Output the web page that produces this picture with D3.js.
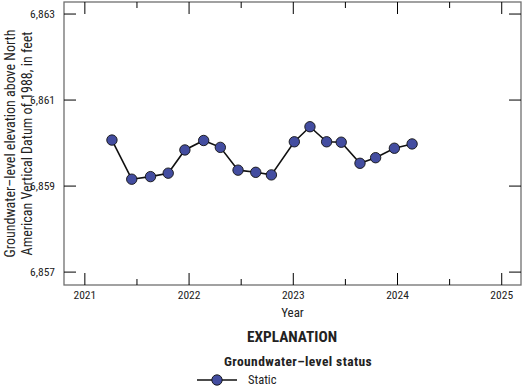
<!DOCTYPE html>
<html>
<head>
<meta charset="utf-8">
<script src="https://cdn.jsdelivr.net/npm/d3@7"></script>
<style>
  body { margin: 0; background: #fff; }
  svg { display: block; font-family: "Liberation Sans Narrow", "Arial Narrow", "Roboto Condensed", sans-serif; }
</style>
</head>
<body>
<div id="chart"></div>
<script>
// measurement dates (decimal years) and groundwater levels, feet above NAVD 88
const years = [2021.26, 2021.45, 2021.63, 2021.80, 2021.96, 2022.14, 2022.30, 2022.47, 2022.64,
  2022.79, 2023.01, 2023.16, 2023.32, 2023.46, 2023.64, 2023.79, 2023.97, 2024.14];
const levels = [6860.07, 6859.16, 6859.22, 6859.30, 6859.84, 6860.06, 6859.90, 6859.37, 6859.32,
  6859.26, 6860.03, 6860.38, 6860.03, 6860.02, 6859.53, 6859.66, 6859.88, 6859.98];
const xTicks = [2021, 2022, 2023, 2024, 2025];
const xMinorTicks = [2021.5, 2022.5, 2023.5, 2024.5];
const yTicks = [6857, 6859, 6861, 6863];

const W = 524, H = 389;
const margin = { top: 2, right: 3, bottom: 104, left: 64 };
const width = W - margin.left - margin.right;
const height = H - margin.top - margin.bottom;

const svg = d3.select('#chart').append('svg')
  .attr('width', W).attr('height', H);

const g = svg.append('g').attr('transform', `translate(${margin.left},${margin.top})`);

const x = d3.scaleLinear().domain([2020.80, 2025.185]).range([0, width]);
const y = d3.scaleLinear().domain([6856.70, 6863.28]).range([height, 0]);

// frame
g.append('rect')
  .attr('width', width).attr('height', height)
  .attr('fill', 'none').attr('stroke', '#6f6f6f').attr('stroke-width', 1.3);

// inward ticks on all four sides
const tickColor = '#000';
xTicks.forEach(t => {
  g.append('line').attr('x1', x(t)).attr('x2', x(t)).attr('y1', height).attr('y2', height - 12).attr('stroke', tickColor);
  g.append('line').attr('x1', x(t)).attr('x2', x(t)).attr('y1', 0).attr('y2', 12).attr('stroke', tickColor);
});
xMinorTicks.forEach(t => {
  g.append('line').attr('x1', x(t)).attr('x2', x(t)).attr('y1', height).attr('y2', height - 6).attr('stroke', tickColor);
  g.append('line').attr('x1', x(t)).attr('x2', x(t)).attr('y1', 0).attr('y2', 6).attr('stroke', tickColor);
});
yTicks.forEach(t => {
  g.append('line').attr('x1', 0).attr('x2', 12).attr('y1', y(t)).attr('y2', y(t)).attr('stroke', tickColor);
  g.append('line').attr('x1', width).attr('x2', width - 12).attr('y1', y(t)).attr('y2', y(t)).attr('stroke', tickColor);
});

// tick labels
const fmt = d3.format(',');
g.append('g').selectAll('text').data(yTicks).join('text')
  .attr('x', -9).attr('y', d => y(d)).attr('dy', '0.35em')
  .attr('text-anchor', 'end').attr('font-size', 11.5).attr('fill', '#222')
  .text(d => fmt(d));

g.append('g').selectAll('text').data(xTicks).join('text')
  .attr('x', d => x(d)).attr('y', height + 14)
  .attr('text-anchor', 'middle').attr('font-size', 11.5).attr('fill', '#222')
  .text(d => d);

// axis titles
svg.append('text')
  .attr('x', margin.left + width / 2).attr('y', 317)
  .attr('text-anchor', 'middle').attr('font-size', 13).attr('fill', '#222')
  .text('Year');

const yTitle = svg.append('text')
  .attr('transform', `translate(15,${margin.top + height / 2}) rotate(-90)`)
  .attr('text-anchor', 'middle').attr('font-size', 14).attr('fill', '#222');
yTitle.append('tspan').attr('x', 0).attr('dy', 0).text('Groundwater\u2013level elevation above North');
yTitle.append('tspan').attr('x', 0).attr('dy', 17).text('American Vertical Datum of 1988, in feet');

// data line and markers
const pts = years.map((d, i) => ({ x: d, y: levels[i] }));
g.append('path').datum(pts)
  .attr('fill', 'none').attr('stroke', '#111').attr('stroke-width', 1.6)
  .attr('d', d3.line().x(d => x(d.x)).y(d => y(d.y)));

g.selectAll('circle.pt').data(pts).join('circle')
  .attr('class', 'pt')
  .attr('cx', d => x(d.x)).attr('cy', d => y(d.y)).attr('r', 5.2)
  .attr('fill', '#434da0').attr('stroke', '#111').attr('stroke-width', 0.9);

// explanation
svg.append('text')
  .attr('x', 292).attr('y', 342)
  .attr('text-anchor', 'middle').attr('font-size', 15.3).attr('font-weight', 'bold').attr('fill', '#222')
  .text('EXPLANATION');
svg.append('text')
  .attr('x', 224).attr('y', 366)
  .attr('font-size', 13.5).attr('font-weight', 'bold').attr('letter-spacing', 0.4).attr('fill', '#222')
  .text('Groundwater\u2013level status');
svg.append('line')
  .attr('x1', 197).attr('x2', 237).attr('y1', 380).attr('y2', 380)
  .attr('stroke', '#111').attr('stroke-width', 1.6);
svg.append('circle')
  .attr('cx', 217).attr('cy', 380).attr('r', 5.2)
  .attr('fill', '#434da0').attr('stroke', '#111').attr('stroke-width', 0.9);
svg.append('text')
  .attr('x', 248).attr('y', 384)
  .attr('font-size', 12.5).attr('fill', '#222')
  .text('Static');
</script>
</body>
</html>
